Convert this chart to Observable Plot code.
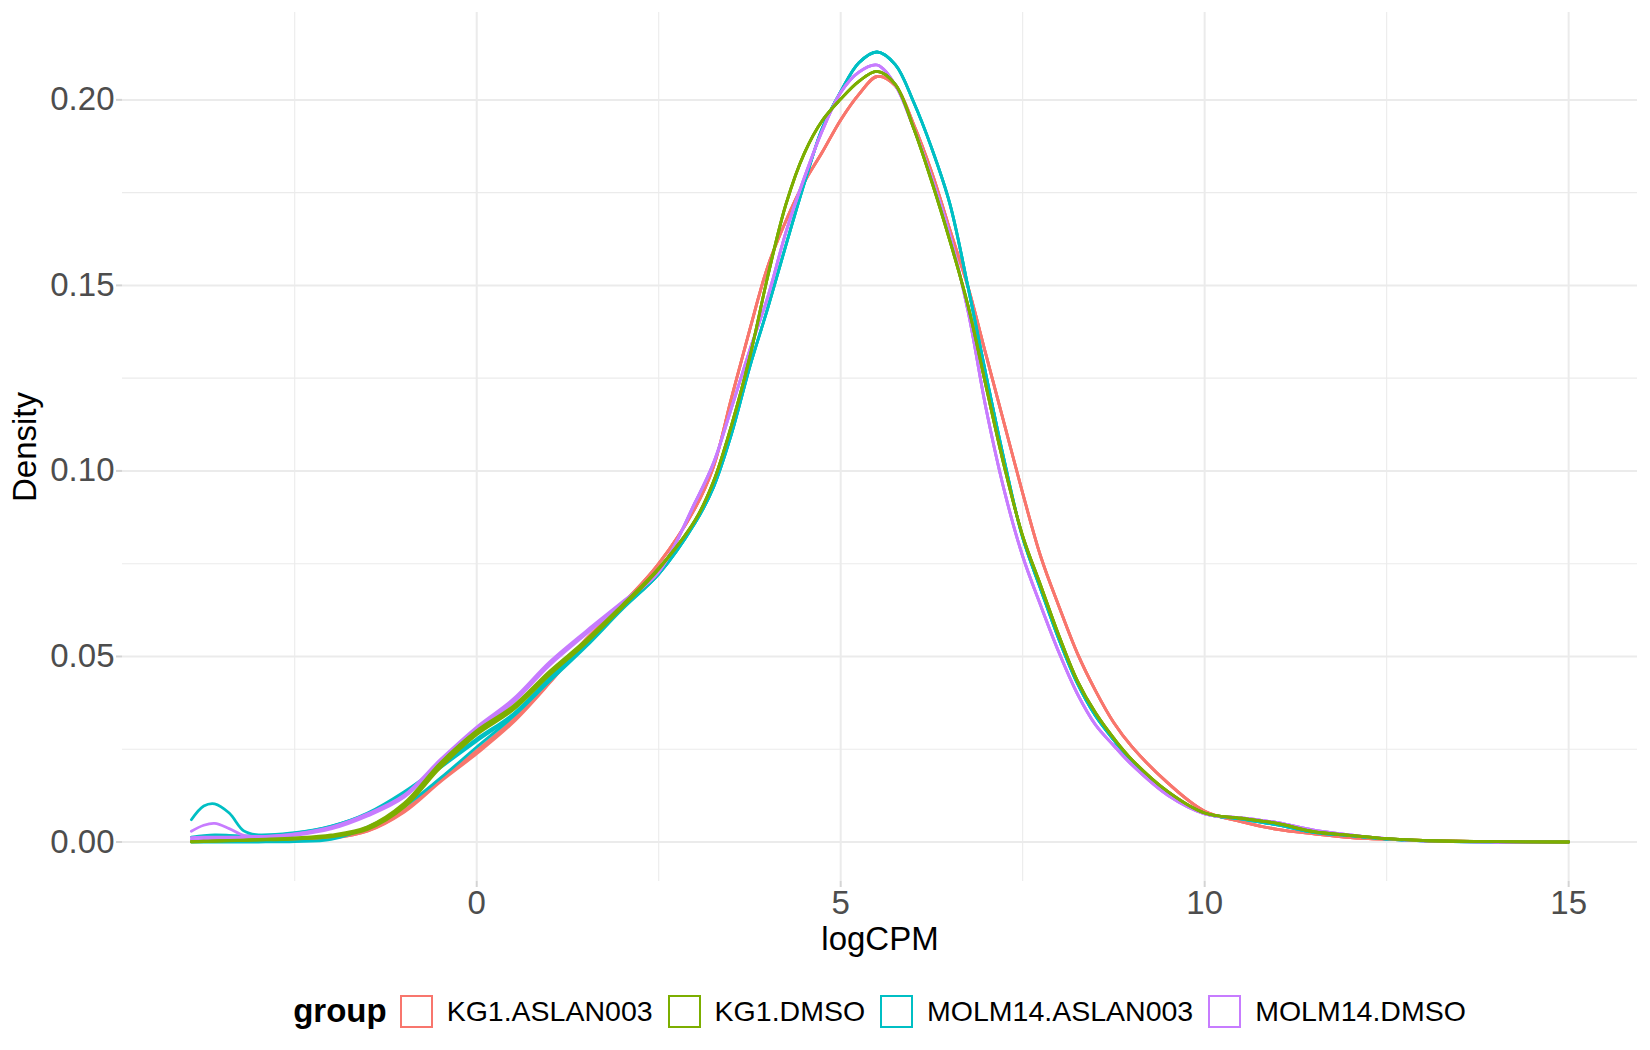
<!DOCTYPE html>
<html>
<head>
<meta charset="utf-8">
<script src="https://cdn.jsdelivr.net/npm/d3@7"></script>
<script src="https://cdn.jsdelivr.net/npm/@observablehq/plot@0.6"></script>
<style>
  body { margin: 0; background: #fff; font-family: "Liberation Sans", Arial, sans-serif; }
  #wrap { position: relative; width: 1650px; height: 1050px; }
  #legend { position: absolute; top: 990px; left: 122px; width: 1515px; height: 42px;
            display: flex; align-items: center; justify-content: center; }
  #legend .title { font-weight: bold; font-size: 33px; color: #000; margin-right: 13px; }
  #legend .key { width: 33px; height: 33px; box-sizing: border-box; border: 2.5px solid; background: #fff; margin-right: 14px; }
  #legend .lab { font-size: 28.5px; color: #000; margin-right: 15px; }
  #legend .lab:last-child { margin-right: 0; }
</style>
</head>
<body>
<div id="wrap"><div id="chart"></div><div id="legend"></div></div>
<script>
// ---- data ----
const groups = ["KG1.ASLAN003", "KG1.DMSO", "MOLM14.ASLAN003", "MOLM14.DMSO"];
const groupColors = ["#F8766D", "#7CAE00", "#00BFC4", "#C77CFF"];

const xMajor = [0, 5, 10, 15];
const xMinor = [-2.5, 2.5, 7.5, 12.5];
const yMajor = [0, 0.05, 0.10, 0.15, 0.20];
const yMinor = [0.025, 0.075, 0.125, 0.175];

// left tail (per sample), logCPM positions
const tailX = [-3.92, -3.75, -3.6, -3.4, -3.2, -3.0, -2.5, -2.0, -1.5, -1.0, -0.5, 0, 0.5, 1.0, 1.5, 2.0, 2.5];

const tailKG1_ASLAN003_1 = [0.0002,0.0003,0.0004,0.0004,0.0004,0.0004,0.0006,0.0010,0.0030,0.0082,0.0166,0.0242,0.0325,0.0430,0.0545,0.0640,0.0750];
const tailKG1_ASLAN003_2 = [0.0003,0.0004,0.0005,0.0005,0.0005,0.0005,0.0007,0.0012,0.0032,0.0085,0.0170,0.0247,0.0330,0.0434,0.0547,0.0642,0.0750];
const tailKG1_ASLAN003_3 = [0.0001,0.0002,0.0003,0.0003,0.0004,0.0004,0.0005,0.0011,0.0029,0.0080,0.0162,0.0238,0.0322,0.0428,0.0543,0.0638,0.0750];

const tailKG1_DMSO_1 = [0.0001,0.0002,0.0003,0.0004,0.0005,0.0006,0.0009,0.0016,0.0038,0.0098,0.0207,0.0295,0.0362,0.0456,0.0540,0.0636,0.0737];
const tailKG1_DMSO_2 = [0.0000,0.0001,0.0002,0.0003,0.0004,0.0005,0.0008,0.0014,0.0034,0.0093,0.0200,0.0289,0.0356,0.0450,0.0536,0.0632,0.0735];
const tailKG1_DMSO_3 = [0.0001,0.0002,0.0003,0.0004,0.0005,0.0007,0.0011,0.0019,0.0041,0.0104,0.0213,0.0300,0.0366,0.0460,0.0544,0.0639,0.0738];

const tailMOLM14_ASLAN003_1 = [0.0060,0.0097,0.0103,0.0078,0.0030,0.0019,0.0024,0.0042,0.0078,0.0135,0.0205,0.0278,0.0345,0.0442,0.0532,0.0630,0.0722];
const tailMOLM14_ASLAN003_2 = [0.0013,0.0017,0.0019,0.0018,0.0016,0.0018,0.0025,0.0043,0.0076,0.0130,0.0200,0.0272,0.0342,0.0440,0.0530,0.0630,0.0722];
const tailMOLM14_ASLAN003_3 = [0.0000,0.0000,0.0000,0.0000,0.0000,0.0000,0.0001,0.0007,0.0040,0.0095,0.0172,0.0256,0.0338,0.0433,0.0526,0.0627,0.0722];

const tailMOLM14_DMSO_1 = [0.0029,0.0045,0.0050,0.0036,0.0018,0.0015,0.0022,0.0040,0.0076,0.0126,0.0222,0.0310,0.0385,0.0485,0.0568,0.0647,0.0728];
const tailMOLM14_DMSO_2 = [0.0012,0.0013,0.0013,0.0013,0.0013,0.0014,0.0021,0.0038,0.0073,0.0122,0.0218,0.0306,0.0380,0.0480,0.0564,0.0645,0.0728];
const tailMOLM14_DMSO_3 = [0.0006,0.0007,0.0008,0.0008,0.0009,0.0011,0.0018,0.0035,0.0070,0.0120,0.0215,0.0302,0.0376,0.0476,0.0560,0.0643,0.0728];

// main body (shared by replicates of a group)
const bodyX = [3.0,3.25,3.5,3.75,4.0,4.25,4.5,4.75,5.0,5.25,5.5,5.75,6.0,6.25,6.5,6.75,7.0,7.25,7.5,7.75,8.0,8.25,8.5,8.75,9.0,9.5,10,10.5,11,11.5,12,12.5,13,14,15];

const bodyKG1_ASLAN003 = [0.0900,0.1010,0.1197,0.1380,0.1552,0.1675,0.1778,0.1860,0.1946,0.2015,0.2063,0.2038,0.1935,0.1805,0.1650,0.1495,0.1310,0.1125,0.0940,0.0768,0.0634,0.0509,0.0408,0.0322,0.0257,0.0158,0.0083,0.0055,0.0034,0.0022,0.0012,0.0007,0.0004,0.0001,0.0000];
const bodyKG1_DMSO = [0.0867,0.0970,0.1123,0.1306,0.1526,0.1720,0.1856,0.1945,0.2002,0.2050,0.2077,0.2042,0.1925,0.1780,0.1620,0.1445,0.1225,0.1010,0.0825,0.0690,0.0555,0.0435,0.0348,0.0280,0.0222,0.0135,0.0078,0.0064,0.0050,0.0028,0.0018,0.0009,0.0004,0.0001,0.0000];
const bodyMOLM14_ASLAN003 = [0.0860,0.0955,0.1100,0.1280,0.1440,0.1610,0.1775,0.1925,0.2022,0.2100,0.2129,0.2095,0.1995,0.1870,0.1720,0.1495,0.1255,0.1025,0.0820,0.0680,0.0545,0.0428,0.0340,0.0275,0.0218,0.0133,0.0077,0.0062,0.0046,0.0026,0.0017,0.0008,0.0003,0.0000,0.0000];
const bodyMOLM14_DMSO = [0.0915,0.1020,0.1170,0.1325,0.1470,0.1645,0.1790,0.1918,0.2020,0.2075,0.2094,0.2040,0.1925,0.1790,0.1635,0.1430,0.1165,0.0945,0.0770,0.0636,0.0510,0.0400,0.0316,0.0260,0.0208,0.0125,0.0076,0.0065,0.0052,0.0032,0.0019,0.0009,0.0003,0.0000,0.0000];

// samples in drawing order
const samples = [
  {name: "KG1.ASLAN003_1", group: groups[0], tail: tailKG1_ASLAN003_1, body: bodyKG1_ASLAN003},
  {name: "KG1.ASLAN003_2", group: groups[0], tail: tailKG1_ASLAN003_2, body: bodyKG1_ASLAN003},
  {name: "KG1.ASLAN003_3", group: groups[0], tail: tailKG1_ASLAN003_3, body: bodyKG1_ASLAN003},
  {name: "MOLM14.ASLAN003_1", group: groups[2], tail: tailMOLM14_ASLAN003_1, body: bodyMOLM14_ASLAN003},
  {name: "MOLM14.ASLAN003_2", group: groups[2], tail: tailMOLM14_ASLAN003_2, body: bodyMOLM14_ASLAN003},
  {name: "MOLM14.ASLAN003_3", group: groups[2], tail: tailMOLM14_ASLAN003_3, body: bodyMOLM14_ASLAN003},
  {name: "MOLM14.DMSO_1", group: groups[3], tail: tailMOLM14_DMSO_1, body: bodyMOLM14_DMSO},
  {name: "MOLM14.DMSO_2", group: groups[3], tail: tailMOLM14_DMSO_2, body: bodyMOLM14_DMSO},
  {name: "MOLM14.DMSO_3", group: groups[3], tail: tailMOLM14_DMSO_3, body: bodyMOLM14_DMSO},
  {name: "KG1.DMSO_1", group: groups[1], tail: tailKG1_DMSO_1, body: bodyKG1_DMSO},
  {name: "KG1.DMSO_2", group: groups[1], tail: tailKG1_DMSO_2, body: bodyKG1_DMSO},
  {name: "KG1.DMSO_3", group: groups[1], tail: tailKG1_DMSO_3, body: bodyKG1_DMSO}
];

const rows = samples.flatMap(s => [
  ...tailX.map((x, i) => ({x, y: s.tail[i], sample: s.name, group: s.group})),
  ...bodyX.map((x, i) => ({x, y: s.body[i], sample: s.name, group: s.group}))
]);

// ---- chart ----
const gridColor = "#ebebeb";
const chart = Plot.plot({
  width: 1650,
  height: 965,
  marginLeft: 122,
  marginRight: 13,
  marginTop: 12,
  marginBottom: 84,
  style: {fontFamily: "'Liberation Sans', Arial, sans-serif", background: "#fff", overflow: "visible"},
  x: {domain: [-4.866, 15.946]},
  y: {domain: [-0.01065, 0.22355]},
  color: {domain: groups, range: groupColors},
  marks: [
    Plot.ruleX(xMinor, {stroke: gridColor, strokeWidth: 1.1}),
    Plot.ruleY(yMinor, {stroke: gridColor, strokeWidth: 1.1}),
    Plot.ruleX(xMajor, {stroke: gridColor, strokeWidth: 2}),
    Plot.ruleY(yMajor, {stroke: gridColor, strokeWidth: 2}),
    Plot.axisX({ticks: xMajor, tickSize: 6, tickPadding: 3, stroke: "#d4d4d4", strokeWidth: 2,
                fill: "#4d4d4d", fontSize: 33, label: null, tickFormat: d => String(d)}),
    Plot.axisY({ticks: yMajor, tickSize: 6, tickPadding: 2, stroke: "#d4d4d4", strokeWidth: 2,
                fill: "#4d4d4d", fontSize: 33, label: null, tickFormat: d3.format(".2f")}),
    Plot.line(rows, {x: "x", y: "y", z: "sample", stroke: "group", strokeWidth: 2.8,
                     curve: "catmull-rom", clip: true}),
    Plot.text(["logCPM"], {text: d => d, frameAnchor: "bottom", dy: 68, fontSize: 33, fill: "#000", textAnchor: "middle"}),
    Plot.text(["Density"], {text: d => d, frameAnchor: "left", dx: -97, rotate: -90, fontSize: 33, fill: "#000", textAnchor: "middle"})
  ]
});
document.getElementById("chart").appendChild(chart);

// ---- legend ----
const legend = document.getElementById("legend");
const t = document.createElement("span");
t.className = "title"; t.textContent = "group";
legend.appendChild(t);
groups.forEach((g, i) => {
  const k = document.createElement("span");
  k.className = "key"; k.style.borderColor = groupColors[i];
  legend.appendChild(k);
  const l = document.createElement("span");
  l.className = "lab"; l.textContent = g;
  legend.appendChild(l);
});
</script>
</body>
</html>
